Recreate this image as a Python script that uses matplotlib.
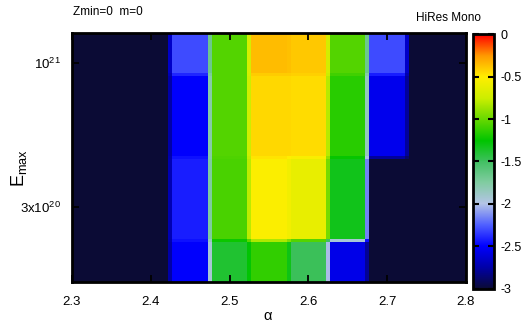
import numpy as np
import matplotlib
matplotlib.use("Agg")
import matplotlib.pyplot as plt
from matplotlib.colors import LinearSegmentedColormap

plt.rcParams['font.family'] = ['Liberation Sans', 'DejaVu Sans']
plt.rcParams['mathtext.fontset'] = 'custom'
plt.rcParams['mathtext.rm'] = 'Liberation Sans'
plt.rcParams['mathtext.it'] = 'Liberation Sans'

# grid of the scan
alpha = [2.3, 2.35, 2.4, 2.45, 2.5, 2.55, 2.6, 2.65, 2.7, 2.75, 2.8]
emax = [1.6e20, 3.2e20, 6.4e20, 1.28e21]

# log-likelihood values, rows = emax (bottom to top)
row_16e20 = [-3, -3, -3, -2.5, -1.38, -1.13, -1.48, -2.56, -3, -3, -3]
row_32e20 = [-3, -3, -3, -2.42, -1.07, -0.52, -0.62, -1.32, -3, -3, -3]
row_64e20 = [-3, -3, -3, -2.5, -1.05, -0.44, -0.45, -1.15, -2.55, -3, -3]
row_128e21 = [-3, -3, -3, -2.3, -1.05, -0.36, -0.39, -1.05, -2.3, -3, -3]

cbar_ticks = [0, -0.5, -1, -1.5, -2, -2.5, -3]

# palette sampled from the colour box
pal = [(0.0, '#0b0b35'), (0.0833, '#0000a8'), (0.1667, '#0000ff'),
       (0.25, '#5060ff'), (0.3333, '#b4c4e6'), (0.4167, '#80cca0'),
       (0.5, '#40c060'), (0.5833, '#00c400'), (0.6667, '#66d800'),
       (0.75, '#ccee00'), (0.8333, '#ffee00'), (0.9167, '#ff9900'),
       (1.0, '#ff0000')]
cmap = LinearSegmentedColormap.from_list('hires', pal)

Z = np.array([row_16e20, row_32e20, row_64e20, row_128e21])

# pm3d-like quads: every grid value is drawn as a cell, the thin gaps
# between cells take the mean of the surrounding corners
dx = 0.0225
xa = np.array(alpha)
xe = np.ravel(np.column_stack([xa - dx, xa + dx]))
ly = np.log10(emax)
dy = 0.146
ye = 10 ** np.ravel(np.column_stack([ly - dy, ly + dy]))
Zp = np.repeat(np.repeat(Z, 2, axis=0), 2, axis=1)
Q = (Zp[:-1, :-1] + Zp[1:, :-1] + Zp[:-1, 1:] + Zp[1:, 1:]) / 4

fig = plt.figure(figsize=(5.24, 3.23), dpi=100)
ax = fig.add_axes([0.1374, 0.127, 0.7516, 0.771])
mesh = ax.pcolormesh(xe, ye, Q, cmap=cmap, vmin=-3, vmax=0,
                     shading='flat', antialiased=False)
ax.set_yscale('log')
ax.set_xlim(2.3, 2.8)
ax.set_ylim(emax[0], emax[-1])
ax.set_xticks([2.3, 2.4, 2.5, 2.6, 2.7, 2.8])
ax.set_xticklabels(['2.3', '2.4', '2.5', '2.6', '2.7', '2.8'])
ax.set_yticks([3e20, 1e21])
ax.set_yticklabels(['3x10$^{20}$', '10$^{21}$'])
ax.yaxis.set_minor_locator(matplotlib.ticker.NullLocator())
ax.tick_params(direction='in', length=5, width=1.3, top=True, right=True,
               labelsize=9.5, pad=10, color='black')
ax.tick_params(axis='y', pad=8)
for s in ax.spines.values():
    s.set_linewidth(2)

fig.text(0.5105, 0.022, 'α', fontsize=10.5, ha='center', va='center')
fig.text(0.036, 0.48, 'E$_{\\rm max}$', fontsize=13, ha='center',
         va='center', rotation=90)

cax = fig.add_axes([0.9027, 0.1053, 0.04, 0.7894])
cb = fig.colorbar(mesh, cax=cax, ticks=cbar_ticks)
cb.set_ticklabels(['0', '-0.5', '-1', '-1.5', '-2', '-2.5', '-3'])
cax.tick_params(direction='in', length=4, width=1.5, left=True, right=True,
                labelsize=9, pad=5)
cb.outline.set_linewidth(2)

fig.text(0.139, 0.962, 'Zmin=0  m=0', fontsize=8.5, va='center')
fig.text(0.917, 0.945, 'HiRes Mono', fontsize=8.5, va='center', ha='right')

fig.savefig('out.png', dpi=100)
